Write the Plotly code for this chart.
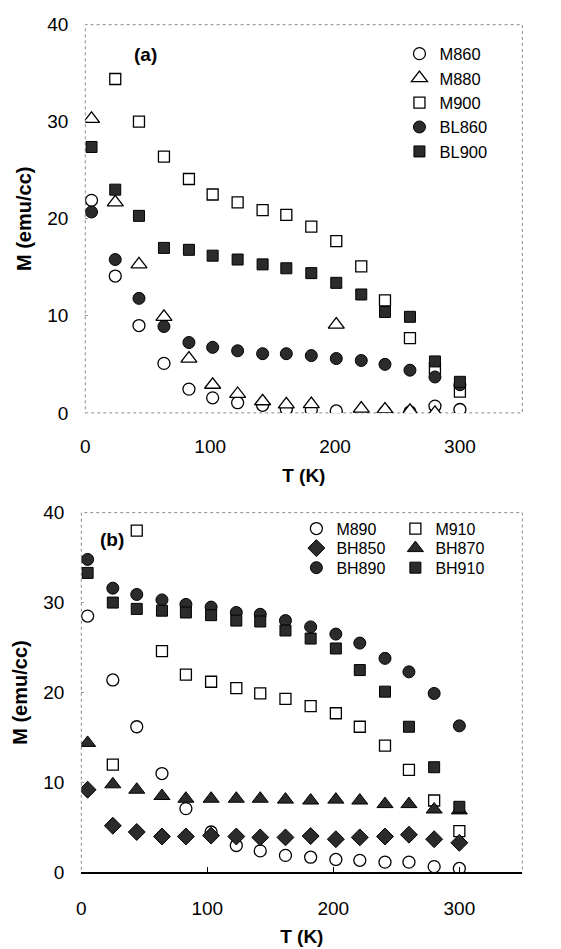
import plotly.graph_objects as go

# ---------------- data ----------------
T_a = [5, 24, 43, 63, 83, 102, 122, 142, 161, 181, 201, 221, 240, 260, 280, 300]
M860 = [21.9, 14.1, 9.0, 5.1, 2.45, 1.55, 1.05, 0.78, 0.37, 0.3, 0.2, 0.1, 0.1, 0.1, 0.7, 0.35]
M880 = [30.3, 21.7, 15.3, 9.9, 5.6, 2.9, 1.95, 1.2, 0.88, 0.9, 9.1, 0.44, 0.35, 0.2, 0.0, None]
M900 = [None, 34.4, 30.0, 26.4, 24.1, 22.5, 21.7, 20.9, 20.4, 19.2, 17.7, 15.1, 11.6, 7.7, 4.6, 2.2]
BL860 = [20.7, 15.8, 11.8, 8.9, 7.25, 6.75, 6.4, 6.1, 6.1, 5.9, 5.6, 5.4, 5.0, 4.4, 3.7, 2.9]
BL900 = [27.4, 23.0, 20.3, 17.0, 16.8, 16.2, 15.8, 15.3, 14.9, 14.4, 13.4, 12.2, 10.4, 9.9, 5.3, 3.2]

T_b = [5, 25, 44, 64, 83, 103, 123, 142, 162, 182, 202, 221, 241, 260, 280, 300]
M890 = [28.5, 21.4, 16.2, 11.0, 7.1, 4.5, 3.0, 2.4, 1.9, 1.7, 1.45, 1.35, 1.15, 1.15, 0.65, 0.45]
M910 = [None, 12.0, 38.0, 24.6, 22.0, 21.2, 20.5, 19.9, 19.3, 18.5, 17.7, 16.2, 14.1, 11.4, 8.0, 4.6]
BH850 = [9.2, 5.2, 4.5, 4.0, 4.0, 4.1, 4.0, 3.9, 3.9, 4.05, 3.7, 3.9, 4.0, 4.2, 3.7, 3.3]
BH870 = [14.4, 9.8, 9.2, 8.5, 8.2, 8.2, 8.2, 8.2, 8.1, 8.0, 8.1, 8.0, 7.6, 7.6, 7.0, 6.9]
BH890 = [34.8, 31.6, 30.9, 30.3, 29.8, 29.5, 28.9, 28.7, 28.0, 27.3, 26.5, 25.5, 23.8, 22.3, 19.9, 16.3]
BH910 = [33.3, 30.0, 29.3, 29.1, 28.9, 28.6, 28.0, 27.9, 26.9, 26.0, 24.9, 22.5, 20.1, 16.2, 11.7, 7.3]

x_ticks = [0, 100, 200, 300]
y_ticks = [0, 10, 20, 30, 40]

FONT = "Liberation Sans, Arial, sans-serif"
DARK = "#2b2b2b"

def open_marker(symbol, size):
    return dict(symbol=symbol, size=size, color="white", line=dict(color="black", width=1.3))

def filled_marker(symbol, size):
    return dict(symbol=symbol, size=size, color=DARK, line=dict(color="black", width=1))

fig = go.Figure()

# ---- panel (a) ----
top = [
    ("M860", M860, open_marker("circle", 12)),
    ("M880", M880, open_marker("triangle-up", 14)),
    ("M900", M900, open_marker("square", 11)),
    ("BL860", BL860, filled_marker("circle", 12)),
    ("BL900", BL900, filled_marker("square", 11)),
]
for name, ys, mk in top:
    fig.add_trace(go.Scatter(x=T_a, y=ys, mode="markers", name=name, marker=mk,
                             xaxis="x", yaxis="y", legend="legend"))

# ---- panel (b) ---- (one horizontal legend per legend row)
bottom = [
    ("M890", M890, open_marker("circle", 12), "legend2"),
    ("M910", M910, open_marker("square", 11), "legend2"),
    ("BH850", BH850, filled_marker("diamond", 13), "legend3"),
    ("BH870", BH870, filled_marker("triangle-up", 14), "legend3"),
    ("BH890", BH890, filled_marker("circle", 12), "legend4"),
    ("BH910", BH910, filled_marker("square", 11), "legend4"),
]
for name, ys, mk, lg in bottom:
    fig.add_trace(go.Scatter(x=T_b, y=ys, mode="markers", name=name, marker=mk,
                             xaxis="x2", yaxis="y2", legend=lg))

W, H = 561, 949
axis_font = dict(family=FONT, size=19, color="black")
xtitle_font = dict(family=FONT, size=19, color="black", weight="bold")
ytitle_font = dict(family=FONT, size=20, color="black", weight="bold")

common_x = dict(range=[0, 350], tickvals=x_ticks, showgrid=False, zeroline=False,
                tickfont=axis_font, title_font=xtitle_font)
common_y = dict(range=[0, 40], tickvals=y_ticks, showgrid=False, zeroline=False,
                tickfont=axis_font, title_font=ytitle_font)

def row_legend(y_px):
    return dict(x=294 / W, y=1 - y_px / H, xanchor="left", yanchor="top",
                orientation="h", entrywidth=54, entrywidthmode="pixels",
                bgcolor="rgba(0,0,0,0)", font=dict(family=FONT, size=16, color="black"),
                itemwidth=30)

fig.update_layout(
    width=W, height=H,
    margin=dict(l=0, r=0, t=0, b=0),
    paper_bgcolor="white", plot_bgcolor="white",
    font=dict(family=FONT, color="black"),
    xaxis=dict(**common_x, domain=[81 / W, 522 / W], anchor="y",
               showline=False, ticks="", ticklabelstandoff=20,
               title=dict(text="T (K)", standoff=12)),
    yaxis=dict(**common_y, domain=[1 - 412 / H, 1 - 15 / H], anchor="x",
               showline=False, ticks="inside", ticklen=3, tickcolor="#999",
               ticklabelstandoff=16, title=dict(text="M (emu/cc)", standoff=10)),
    xaxis2=dict(**common_x, domain=[77 / W, 522 / W], anchor="y2",
                showline=True, linecolor="black", linewidth=1.5,
                ticks="inside", ticklen=6, tickcolor="black", ticklabelstandoff=18,
                title=dict(text="T (K)", standoff=12)),
    yaxis2=dict(**common_y, domain=[1 - 882 / H, 1 - 514 / H], anchor="x2",
                showline=False, ticks="inside", ticklen=3, tickcolor="#999",
                ticklabelstandoff=16, title=dict(text="M (emu/cc)", standoff=10)),
    legend=dict(x=398 / W, y=1 - 27 / H, xanchor="left", yanchor="top",
                bgcolor="rgba(0,0,0,0)", font=dict(family=FONT, size=16.5, color="black"),
                itemwidth=30, tracegroupgap=0),
    legend2=row_legend(513),
    legend3=row_legend(533),
    legend4=row_legend(553),
    shapes=[
        dict(type="rect", xref="x domain", yref="y domain", x0=0, x1=1, y0=0, y1=1,
             line=dict(color="#8a8a8a", width=1, dash="dot"), layer="below"),
        dict(type="rect", xref="x2 domain", yref="y2 domain", x0=0, x1=1, y0=0, y1=1,
             line=dict(color="#8a8a8a", width=1, dash="dot"), layer="below"),
    ],
    annotations=[
        dict(text="<b>(a)</b>", xref="paper", yref="paper", x=142 / W, y=1 - 45 / H,
             xanchor="center", yanchor="middle",
             showarrow=False, font=dict(family=FONT, size=19, color="black")),
        dict(text="<b>(b)</b>", xref="paper", yref="paper", x=108 / W, y=1 - 541 / H,
             xanchor="center", yanchor="middle",
             showarrow=False, font=dict(family=FONT, size=19, color="black")),
    ],
)

fig.write_html("out.html")
